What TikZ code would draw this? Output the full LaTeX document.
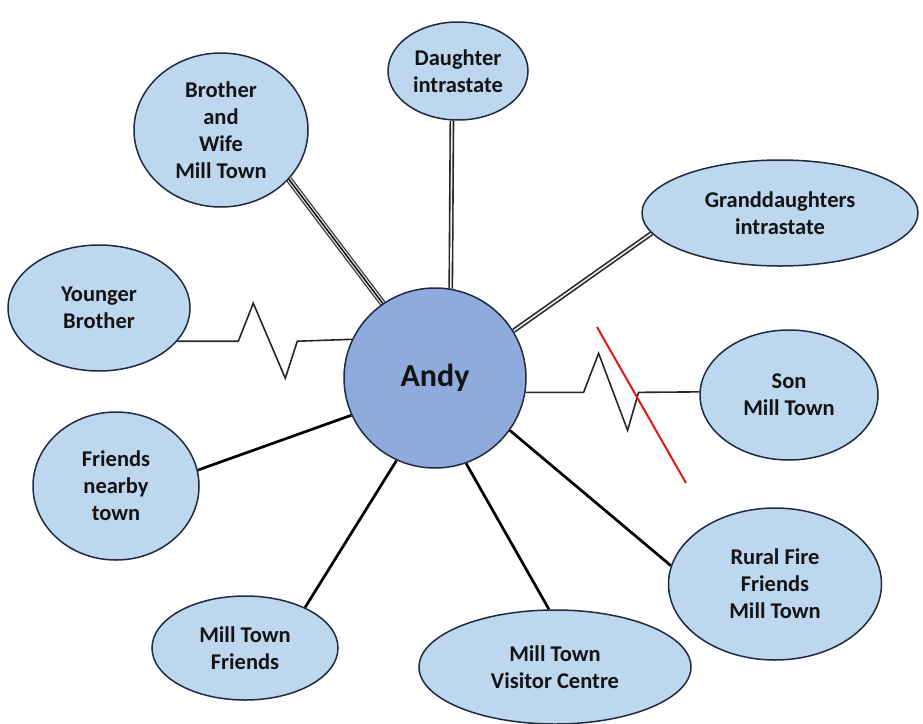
\documentclass[tikz,border=0pt]{standalone}
\usepackage{fontspec}
\setmainfont{Carlito}
\usetikzlibrary{shapes.geometric,backgrounds}
\definecolor{bubblefill}{HTML}{BDD7EE}
\definecolor{hubfill}{HTML}{8FAADC}
\definecolor{edge}{HTML}{1F2A40}
\definecolor{label}{HTML}{141414}
\definecolor{cutred}{HTML}{E3161B}
\begin{document}
\begin{tikzpicture}[x=1pt,y=-1pt,
  bubble/.style={ellipse, draw=edge, fill=bubblefill, line width=1.5pt,
    inner sep=0pt, align=center, text=label,
    font=\bfseries\fontsize{22.5}{27}\selectfont},
  hub/.style={bubble, fill=hubfill, font=\bfseries\fontsize{32}{36}\selectfont},
  tie/.style={line width=2.7pt, black},
  zigtie/.style={line width=1.6pt, black!85, line join=miter},
  doubletie/.style={line width=1.6pt, black!85, double=gray!15, double distance=1.6pt},
  tripletie/.style={line width=1.3pt, black,
    preaction={draw, line width=6.4pt, black!80},
    preaction={draw, line width=4pt, gray!30}},
  cut/.style={line width=2pt, cutred}
]
\useasboundingbox (0,0) rectangle (923,723);

% people around Andy
\node[hub, minimum width=182pt, minimum height=180pt] (andy) at (435,378) {Andy};
\node[bubble, minimum width=140pt, minimum height=98pt] (daughter) at (458,71) {Daughter\\intrastate};
\node[bubble, minimum width=174pt, minimum height=154pt] (brother) at (221,130) {Brother\\and\\Wife\\Mill Town};
\node[bubble, minimum width=276pt, minimum height=106pt] (grand) at (780,213) {Granddaughters\\intrastate};
\node[bubble, minimum width=182pt, minimum height=126pt] (younger) at (99,308) {Younger\\Brother};
\node[bubble, minimum width=178pt, minimum height=130pt] (son) at (789,395) {Son\\Mill Town};
\node[bubble, minimum width=166pt, minimum height=148pt] (nearby) at (116,486) {Friends\\nearby\\town};
\node[bubble, minimum width=213pt, minimum height=152pt] (fire) at (775,584) {Rural Fire\\Friends\\Mill Town};
\node[bubble, minimum width=186pt, minimum height=104pt] (mtfriends) at (245,648) {Mill Town\\Friends};
\node[bubble, minimum width=272pt, minimum height=114pt] (visitor) at (555,667) {Mill Town\\Visitor Centre};

% marks where the tie to the son is cut
\coordinate (cutA) at (597,327);
\coordinate (cutB) at (686,483);

\begin{scope}[on background layer]
  \draw[tripletie] (brother.-36) -- (andy.125);
  \draw[doubletie] (daughter.-97) -- (andy.80);
  \draw[doubletie] (grand.189) -- (andy.31);
  \draw[zigtie] (younger.-23) -- ++(61,0) -- ++(15,-38) -- ++(32,75) -- ++(12,-37) -- (andy.155);
  \draw[zigtie] (andy.-9) -- ++(58,0) -- ++(15,-39) -- ++(29,77) -- ++(11,-38) -- (son.178);
  \draw[tie] (nearby.11) -- (andy.-156);
  \draw[tie] (mtfriends.34) -- (andy.-115);
  \draw[tie] (visitor.96) -- (andy.-70);
  \draw[tie] (fire.170) -- (andy.-35);
\end{scope}
\draw[cut] (cutA) -- (cutB);
\end{tikzpicture}
\end{document}
